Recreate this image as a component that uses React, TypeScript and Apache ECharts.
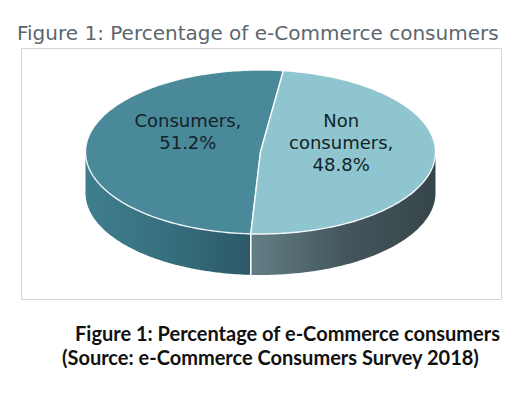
import React, { useEffect, useRef } from "react";
import * as echarts from "echarts";

// ---- data ----
const categories: string[] = ["Consumers", "Non consumers"];
const values: number[] = [51.2, 48.8];
const chartTitle = "Figure 1: Percentage of e-Commerce consumers";
const captionLines: string[] = [
  "Figure 1: Percentage of e-Commerce consumers",
  "(Source: e-Commerce Consumers Survey 2018)",
];

// ---- styles ----
const topColors = ["#4a8999", "#8ec5cf"];
const sideColors = [
  ["#3f7e8d", "#366f7e", "#2c5967"],
  ["#627f85", "#44575d", "#36454a"],
];
const START_DEG = 7.5; // clockwise from 12 o'clock
const PIE = { cx: 260.5, cy: 152, rx: 175, ry: 82, depth: 41 };

function pt(deg: number, dy = 0): number[] {
  const r = (deg * Math.PI) / 180;
  return [PIE.cx + PIE.rx * Math.sin(r), PIE.cy - PIE.ry * Math.cos(r) + dy];
}

function arc(a: number, b: number, dy = 0): number[][] {
  const pts: number[][] = [];
  const n = Math.max(2, Math.ceil(Math.abs(b - a)));
  for (let k = 0; k <= n; k++) pts.push(pt(a + ((b - a) * k) / n, dy));
  return pts;
}

function labelText(name: string, v: number): string {
  return name.split(" ").join("\n") + ",\n" + v.toFixed(1) + "%";
}

export default function App() {
  const ref = useRef<HTMLDivElement>(null);
  useEffect(() => {
    if (!ref.current) return;
    const chart = echarts.init(ref.current, undefined, { renderer: "svg" });
    const total = values.reduce((s, v) => s + v, 0);

    const renderItem = (params: any) => {
      const i = params.dataIndex;
      let before = 0;
      for (let j = 0; j < i; j++) before += values[j];
      const end = START_DEG - (before / total) * 360;
      const start = end - (values[i] / total) * 360;
      const children: any[] = [];

      for (let k = -1; k <= 1; k++) {
        const lo = Math.max(start, 90 + 360 * k);
        const hi = Math.min(end, 270 + 360 * k);
        if (hi > lo) {
          const topArc = arc(lo, hi, 0);
          const botArc = arc(hi, lo, PIE.depth);
          children.push({
            type: "polygon",
            shape: { points: topArc.concat(botArc) },
            style: {
              fill: {
                type: "linear",
                x: 0, y: 0, x2: 1, y2: 0,
                colorStops: [
                  { offset: 0, color: sideColors[i][0] },
                  { offset: 0.5, color: sideColors[i][1] },
                  { offset: 1, color: sideColors[i][2] },
                ],
              },
              stroke: null,
            },
          });
        }
      }
      [start, end].forEach((b) => {
        const nb = ((b % 360) + 360) % 360;
        if (nb > 90 && nb < 270) {
          const p = pt(b);
          children.push({
            type: "line",
            shape: { x1: p[0], y1: p[1], x2: p[0], y2: p[1] + PIE.depth },
            style: { stroke: "#ffffff", lineWidth: 1.5 },
          });
        }
      });
      children.push({
        type: "polygon",
        shape: { points: [[PIE.cx, PIE.cy]].concat(arc(start, end, 0)) },
        style: { fill: topColors[i], stroke: "rgba(255,255,255,0.9)", lineWidth: 1.4, lineJoin: "round" },
      });
      const mid = (start + end) / 2;
      const mr = (mid * Math.PI) / 180;
      children.push({
        type: "text",
        x: PIE.cx + 0.44 * PIE.rx * Math.sin(mr) + 4,
        y: PIE.cy - 43,
        style: {
          text: labelText(categories[i], values[i]),
          fill: "#132328",
          font: "18px 'DejaVu Sans'",
          align: "center",
          verticalAlign: "top",
          lineHeight: 22,
        },
      });
      return { type: "group", children };
    };

    chart.setOption({
      animation: false,
      backgroundColor: "#ffffff",
      graphic: [
        {
          type: "rect",
          shape: { x: 21.5, y: 48.5, width: 480, height: 251 },
          style: { fill: "#ffffff", stroke: "#d6d6d6", lineWidth: 1 },
          z: -10,
        },
        {
          type: "text",
          x: 17,
          y: 33,
          style: {
            text: chartTitle,
            fill: "#5c666e",
            font: "20px 'DejaVu Sans'",
            align: "left",
            verticalAlign: "middle",
          },
        },
        {
          type: "text",
          x: 75,
          y: 332.5,
          style: {
            text: captionLines[0],
            fill: "#111111",
            font: "bold 20px Lato",
            align: "left",
            verticalAlign: "middle",
          },
        },
        {
          type: "text",
          x: 62,
          y: 356.5,
          style: {
            text: captionLines[1],
            fill: "#111111",
            font: "bold 20px Lato",
            align: "left",
            verticalAlign: "middle",
          },
        },
      ],
      series: [
        {
          type: "custom",
          coordinateSystem: "none",
          renderItem,
          data: categories.map((c, i) => ({ name: c, value: values[i] })),
          z: 2,
        },
      ],
    });
    return () => chart.dispose();
  }, []);
  return (
    <div
      ref={ref}
      style={{ position: "fixed", left: 0, top: 0, width: 524, height: 398 }}
    />
  );
}
